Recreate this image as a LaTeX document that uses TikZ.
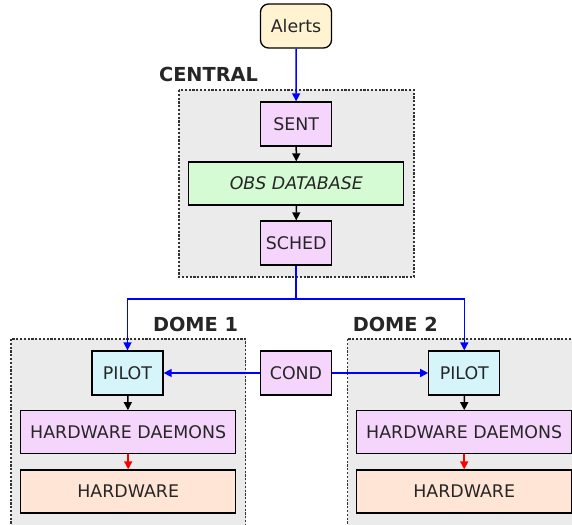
\documentclass[tikz,border=0pt]{standalone}
\usepackage{fontspec}
\setmainfont{DejaVu Sans}
\usetikzlibrary{arrows.meta}
\definecolor{bggray}{HTML}{EBEBEB}
\definecolor{alertfill}{HTML}{FFF3D2}
\definecolor{pinkfill}{HTML}{F5D5FB}
\definecolor{greenfill}{HTML}{D5FBD5}
\definecolor{cyanfill}{HTML}{D5F5FB}
\definecolor{peachfill}{HTML}{FFE5D5}
\tikzset{
  x=1pt, y=-1pt,
  box/.style={draw=black, line width=1.3pt, inner sep=0pt, text=black!85,
    font=\fontsize{17.4}{20}\selectfont},
  small/.style={box, minimum width=71pt, minimum height=44pt},
  wide/.style={box, minimum width=215pt, minimum height=43pt},
  group/.style={draw=black!80, fill=bggray, line width=1.1pt, dash pattern=on 2.2pt off 1.6pt},
  grouplabel/.style={font=\fontsize{19.3}{22}\selectfont\bfseries, inner sep=0pt, text=black!85},
  conn/.style={line width=1.5pt, -{Triangle[length=8pt,width=8pt]}},
}
\begin{document}
\begin{tikzpicture}
\useasboundingbox (0,0) rectangle (572,524);
\clip (0,0) rectangle (572,524);
% groups
\draw[group] (179,90) rectangle (414,277);
\draw[group] (11,339) rectangle (245.7,545);
\draw[group] (347.7,339) rectangle (582,545);
\node[grouplabel] (lcentral) at (208.5,74) {CENTRAL};
\node[grouplabel] (ldome1) at (195.5,324.5) {DOME 1};
\node[grouplabel] (ldome2) at (395.3,324.5) {DOME 2};
% nodes
\node[small, fill=alertfill, rounded corners=8pt, minimum height=44pt] (alerts) at (296,26) {Alerts};
\node[small, fill=pinkfill] (sent) at (296.2,124) {SENT};
\node[wide, fill=greenfill] (obs) at (296.3,183.5) {\itshape OBS DATABASE};
\node[small, fill=pinkfill] (sched) at (296.2,243) {SCHED};
\node[small, fill=cyanfill] (pilot1) at (127.5,373) {PILOT};
\node[wide, fill=pinkfill] (hd1) at (128.2,432.3) {HARDWARE DAEMONS};
\node[wide, fill=peachfill] (hw1) at (128.2,491.5) {HARDWARE};
\node[small, fill=pinkfill] (cond) at (296,373) {COND};
\node[small, fill=cyanfill] (pilot2) at (464.3,373) {PILOT};
\node[wide, fill=pinkfill] (hd2) at (464.2,432.3) {HARDWARE DAEMONS};
\node[wide, fill=peachfill] (hw2) at (464.2,491.5) {HARDWARE};
\coordinate (bus) at (296.2,299);
% connectors
\draw[conn, blue] (alerts) -- (sent);
\draw[conn, black] (sent) -- (obs);
\draw[conn, black] (obs) -- (sched);
\draw[line width=1.5pt, blue] (sched.south) -- (bus);
\draw[conn, blue] (bus) -| (pilot1.north);
\draw[conn, blue] (bus) -| (pilot2.north);
\draw[conn, blue] (cond) -- (pilot1);
\draw[conn, blue] (cond) -- (pilot2);
\draw[conn, black] (pilot1) -- (hd1);
\draw[conn, red] (hd1) -- (hw1);
\draw[conn, black] (pilot2) -- (hd2);
\draw[conn, red] (hd2) -- (hw2);
\end{tikzpicture}
\end{document}
